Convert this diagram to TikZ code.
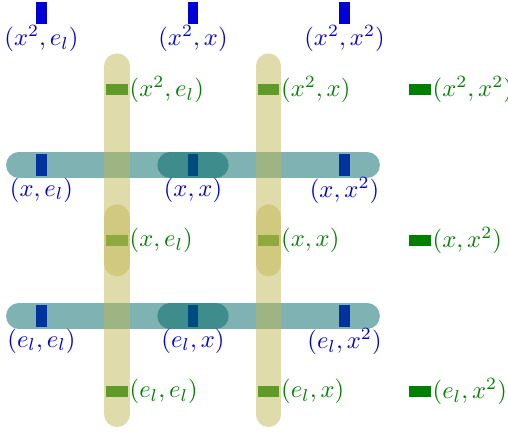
\documentclass[tikz,border=0pt]{standalone}
\usetikzlibrary{calc}
\definecolor{mblue}{RGB}{0,0,215}
\definecolor{mgreen}{RGB}{0,128,0}
\definecolor{tband}{RGB}{0,102,102}
\definecolor{oband}{RGB}{193,183,85}
\begin{document}
\begin{tikzpicture}[x=0.01429cm,y=-0.01429cm,
 bmark/.style={fill=mblue,minimum width=0.157cm,minimum height=0.314cm,inner sep=0pt,outer sep=0pt},
 gmark/.style={fill=mgreen,minimum width=0.314cm,minimum height=0.157cm,inner sep=0pt,outer sep=0pt},
 blab/.style={text=mblue,anchor=north,inner sep=0.5pt},
 glab/.style={text=mgreen,anchor=west,inner sep=0.5pt},
 tealband/.style={draw=tband,line width=0.364cm,line cap=round,draw opacity=0.5},
 oliveband/.style={draw=oband,line width=0.367cm,line cap=round,draw opacity=0.5}]
\useasboundingbox (0,0) rectangle (508,435);
% blue markers
\node[bmark] (b00) at (41.5,13) {};
\node[bmark] (b01) at (193,13) {};
\node[bmark] (b02) at (344.5,13) {};
\node[bmark] (b10) at (41.5,165) {};
\node[bmark] (b11) at (193,165) {};
\node[bmark] (b12) at (344.5,165) {};
\node[bmark] (b20) at (41.5,316) {};
\node[bmark] (b21) at (193,316) {};
\node[bmark] (b22) at (344.5,316) {};
% green markers
\node[gmark] (g00) at (117,89.5) {};
\node[gmark] (g01) at (268.5,89.5) {};
\node[gmark] (g02) at (420,89.5) {};
\node[gmark] (g10) at (117,240.5) {};
\node[gmark] (g11) at (268.5,240.5) {};
\node[gmark] (g12) at (420,240.5) {};
\node[gmark] (g20) at (117,391.5) {};
\node[gmark] (g21) at (268.5,391.5) {};
\node[gmark] (g22) at (420,391.5) {};
% teal bands
\draw[tealband] ($(b10)+(-22.7,0)$) -- ($(b12)+(22.7,0)$);
\draw[tealband] ($(b11)+(-23,0)$) -- ($(b11)+(23,0)$);
\draw[tealband] ($(b20)+(-22.7,0)$) -- ($(b22)+(22.7,0)$);
\draw[tealband] ($(b21)+(-23,0)$) -- ($(b21)+(23,0)$);
% olive bands
\draw[oliveband] ($(g00)+(0,-23.3)$) -- ($(g20)+(0,22.7)$);
\draw[oliveband] ($(g10)+(0,-23.3)$) -- ($(g10)+(0,23)$);
\draw[oliveband] ($(g01)+(0,-23.3)$) -- ($(g21)+(0,22.7)$);
\draw[oliveband] ($(g11)+(0,-23.3)$) -- ($(g11)+(0,23)$);
% blue labels
\node[blab] (lb00) at (b00.south) {$(x^2,e_l)$};
\node[blab] (lb01) at (b01.south) {$(x^2,x)$};
\node[blab] (lb02) at (b02.south) {$(x^2,x^2)$};
\node[blab] (lb10) at (b10.south) {$(x,e_l)$};
\node[blab] (lb11) at (b11.south) {$(x,x)$};
\node[blab] (lb12) at (b12.south) {$(x,x^2)$};
\node[blab] (lb20) at (b20.south) {$(e_l,e_l)$};
\node[blab] (lb21) at (b21.south) {$(e_l,x)$};
\node[blab] (lb22) at (b22.south) {$(e_l,x^2)$};
% green labels
\node[glab] (lg00) at (g00.east) {$(x^2,e_l)$};
\node[glab] (lg01) at (g01.east) {$(x^2,x)$};
\node[glab] (lg02) at (g02.east) {$(x^2,x^2)$};
\node[glab] (lg10) at (g10.east) {$(x,e_l)$};
\node[glab] (lg11) at (g11.east) {$(x,x)$};
\node[glab] (lg12) at (g12.east) {$(x,x^2)$};
\node[glab] (lg20) at (g20.east) {$(e_l,e_l)$};
\node[glab] (lg21) at (g21.east) {$(e_l,x)$};
\node[glab] (lg22) at (g22.east) {$(e_l,x^2)$};
\end{tikzpicture}
\end{document}
